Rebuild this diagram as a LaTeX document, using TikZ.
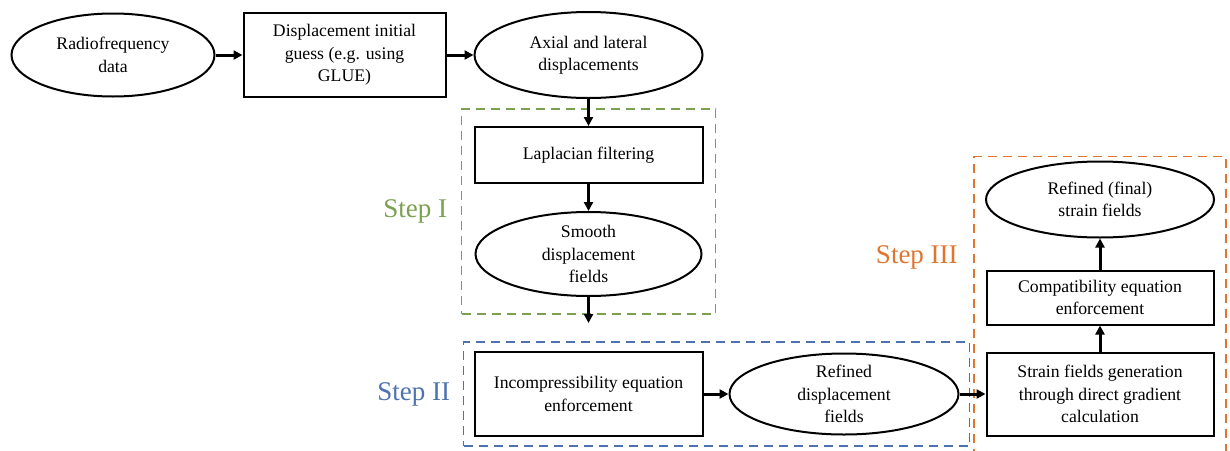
\documentclass[tikz,border=0pt]{standalone}
\usepackage{fontspec}
\setmainfont{Liberation Serif}
\usetikzlibrary{arrows.meta,positioning,fit,shapes.geometric}
\definecolor{stepgreen}{HTML}{7AA050}
\definecolor{stepblue}{HTML}{4C72B0}
\definecolor{steporange}{HTML}{E0752F}
\tikzset{
flow box/.style={
  draw=black,
  line width=1pt,
  align=center,
  inner sep=2pt,
  font=\fontsize{8.85}{11.2}\selectfont
},
flow oval/.style={flow box, ellipse, inner xsep=0pt, inner ysep=-1.5pt},
flow arrow/.style={
  draw=black,
  line width=1.5pt,
  -{Triangle[length=4.5pt,width=4.5pt]}
},
step group/.style={
  dash pattern=on 4.5pt off 3pt,
  line width=0.9pt,
  inner sep=5pt
},
step label/.style={inner sep=0pt, font=\fontsize{13.5}{16}\selectfont}
}

\begin{document}
\begin{tikzpicture}[
node distance=13.5pt,
]
\useasboundingbox (0,0) rectangle (615pt,-225pt);
\node[flow oval, minimum width=101.5pt, minimum height=41.5pt] (rf) at (56.5pt,-27.5pt) {Radiofrequency\\data};
\node[flow box, right=of rf, minimum width=101pt, minimum height=42pt] (guess) {Displacement initial\\guess (e.g. using\\GLUE)};
\node[flow oval, right=of guess, minimum width=114pt, minimum height=43pt] (axial) {Axial and lateral\\displacements};
\node[flow box, below=of axial, minimum width=114pt, minimum height=28pt] (lap) {Laplacian filtering};
\node[flow oval, below=of lap, minimum width=113pt, minimum height=42pt] (smooth) {Smooth\\displacement\\fields};
\coordinate[below=13pt of smooth] (gap);
\node[flow box, below=27pt of smooth, minimum width=114pt, minimum height=42pt] (incomp) {Incompressibility equation\\enforcement};
\node[flow oval, right=12.5pt of incomp, minimum width=114.5pt, minimum height=40.5pt] (refined) {Refined\\displacement\\fields};
\node[flow box, right=13pt of refined, minimum width=113.5pt, minimum height=41.5pt] (strain) {Strain fields generation\\through direct gradient\\calculation};
\node[flow box, above=13pt of strain, minimum width=113.5pt, minimum height=27pt] (compat) {Compatibility equation\\enforcement};
\node[flow oval, above=15.5pt of compat, minimum width=114pt, minimum height=38pt] (final) {Refined (final)\\strain fields};
\coordinate[below=15pt of strain] (cut);
% dashed step groups
\node[step group, draw=stepgreen, fit=(lap)(smooth), inner xsep=6pt, inner ysep=8.5pt] (stepI) {};
\node[step group, draw=stepblue, fit=(incomp)(refined), inner xsep=5pt, inner ysep=4.5pt] (stepII) {};
\node[step group, draw=steporange, fit=(final)(strain)(cut), inner xsep=5.5pt, inner ysep=2pt] (stepIII) {};
\node[step label, text=stepgreen, left=6.5pt of stepI] (labI) {Step I};
\node[step label, text=stepblue, left=6pt of stepII] (labII) {Step II};
\node[step label, text=steporange, anchor=east] (labIII) at ([xshift=-7.5pt,yshift=-50.75pt]stepIII.north west) {Step III};
\draw[flow arrow] (rf) -- (guess);
\draw[flow arrow] (guess) -- (axial);
\draw[flow arrow] (axial) -- (lap);
\draw[flow arrow] (lap) -- (smooth);
\draw[flow arrow] (smooth) -- (gap);
\draw[flow arrow] (incomp) -- (refined);
\draw[flow arrow] (refined) -- (strain);
\draw[flow arrow] (strain) -- (compat);
\draw[flow arrow] (compat) -- (final);
\end{tikzpicture}
\end{document}
